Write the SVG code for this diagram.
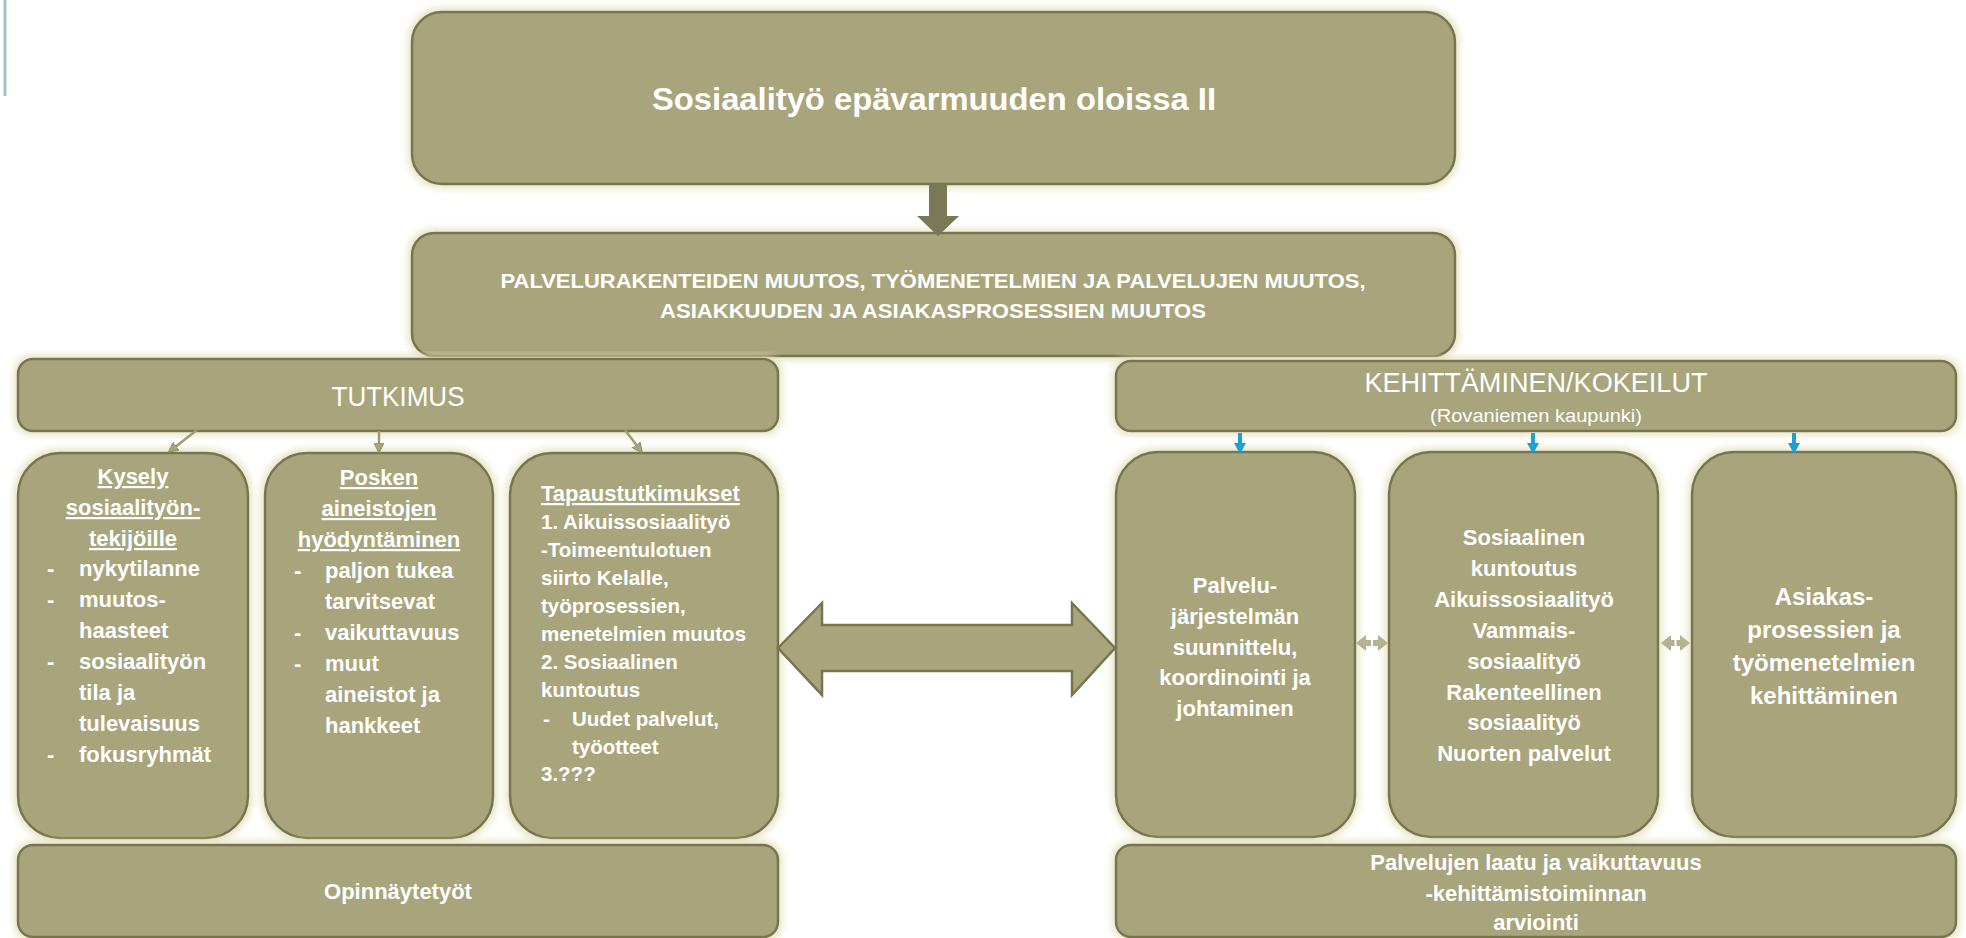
<svg xmlns="http://www.w3.org/2000/svg" width="1966" height="938" viewBox="0 0 1966 938">
<style>
.box{fill:#a8a57c;stroke:#77744f;stroke-width:2.5;filter:url(#glow)}
.t{font-family:"Liberation Sans",Arial,sans-serif;fill:#ffffff}
.b{font-weight:bold}
.c{text-anchor:middle}
.u{text-decoration:underline}
.s22{font-size:22px}
.s20{font-size:20.5px}
.s24{font-size:24px}
.olive{stroke:#9e9b73;stroke-width:2.5;fill:none}
.blue{stroke:#1ba1d8;stroke-width:4;fill:none}
</style>
<defs>
<filter id="glow" x="-10%" y="-10%" width="120%" height="120%">
<feMorphology in="SourceAlpha" operator="dilate" radius="2" result="d"/>
<feGaussianBlur in="d" stdDeviation="4" result="bl"/>
<feFlood flood-color="#dedbb0" flood-opacity="0.9"/>
<feComposite in2="bl" operator="in" result="g"/>
<feMerge><feMergeNode in="g"/><feMergeNode in="SourceGraphic"/></feMerge>
</filter>
<marker id="oh" markerWidth="10" markerHeight="10" refX="8" refY="5" orient="auto" markerUnits="userSpaceOnUse">
<path d="M0,0 L10,5 L0,10 Z" fill="#a8a57c" stroke="#8f8c66" stroke-width="1"/>
</marker>
<marker id="bh" markerWidth="14" markerHeight="12" refX="6" refY="6" orient="auto" markerUnits="userSpaceOnUse">
<path d="M0,0 L11,6 L0,12 Z" fill="#1ba1d8"/>
</marker>
</defs>
<rect width="1966" height="938" fill="#ffffff"/>
<line x1="5" y1="0" x2="5" y2="96" stroke="#a5c3c4" stroke-width="3"/>

<g id="title">
<rect class="box" x="412" y="12" width="1043" height="172" rx="30"/>
<text class="t b" x="934" y="110" font-size="32" text-anchor="middle" textLength="564" lengthAdjust="spacingAndGlyphs">Sosiaalityö epävarmuuden oloissa II</text>
</g>
<g id="muutos">
<rect class="box" x="412" y="233" width="1043" height="123" rx="22"/>
<text class="t b c" x="933" y="288" font-size="21" textLength="865" lengthAdjust="spacingAndGlyphs">PALVELURAKENTEIDEN MUUTOS, TYÖMENETELMIEN JA PALVELUJEN MUUTOS,</text>
<text class="t b c" x="933" y="318" font-size="21" textLength="546" lengthAdjust="spacingAndGlyphs">ASIAKKUUDEN JA ASIAKASPROSESSIEN MUUTOS</text>
</g>
<g id="tutkimus">
<rect class="box" x="18" y="359" width="760" height="72" rx="15"/>
<text class="t c" x="398" y="406" font-size="28" textLength="133" lengthAdjust="spacingAndGlyphs">TUTKIMUS</text>
</g>
<g id="kehittaminen">
<rect class="box" x="1116" y="361" width="840" height="70" rx="15"/>
<text class="t c" x="1536" y="392" font-size="28" textLength="343" lengthAdjust="spacingAndGlyphs">KEHITTÄMINEN/KOKEILUT</text>
<text class="t c" x="1536" y="422" font-size="19" textLength="212" lengthAdjust="spacingAndGlyphs">(Rovaniemen kaupunki)</text>
</g>
<g id="kysely">
<rect class="box" x="18" y="453" width="230" height="385" rx="42"/>
<text class="t b s22 c u" x="133" y="484">Kysely</text>
<text class="t b s22 c u" x="133" y="515">sosiaalityön-</text>
<text class="t b s22 c u" x="133" y="546">tekijöille</text>
<g class="t b s22">
<text x="47" y="576">-</text><text x="79" y="576">nykytilanne</text>
<text x="47" y="607">-</text><text x="79" y="607">muutos-</text>
<text x="79" y="638">haasteet</text>
<text x="47" y="669">-</text><text x="79" y="669">sosiaalityön</text>
<text x="79" y="700">tila ja</text>
<text x="79" y="731">tulevaisuus</text>
<text x="47" y="762">-</text><text x="79" y="762">fokusryhmät</text>
</g>
</g>
<g id="posken">
<rect class="box" x="265" y="453" width="228" height="385" rx="42"/>
<text class="t b s22 c u" x="379" y="485">Posken</text>
<text class="t b s22 c u" x="379" y="516">aineistojen</text>
<text class="t b s22 c u" x="379" y="547">hyödyntäminen</text>
<g class="t b s22">
<text x="294" y="578">-</text><text x="325" y="578">paljon tukea</text>
<text x="325" y="609">tarvitsevat</text>
<text x="294" y="640">-</text><text x="325" y="640">vaikuttavuus</text>
<text x="294" y="671">-</text><text x="325" y="671">muut</text>
<text x="325" y="702">aineistot ja</text>
<text x="325" y="733">hankkeet</text>
</g>
</g>
<g id="tapaustutkimukset">
<rect class="box" x="510" y="453" width="268" height="385" rx="42"/>
<text class="t b s22 u" x="541" y="501">Tapaustutkimukset</text>
<g class="t b s20">
<text x="541" y="529">1. Aikuissosiaalityö</text>
<text x="541" y="557">-Toimeentulotuen</text>
<text x="541" y="585">siirto Kelalle,</text>
<text x="541" y="613">työprosessien,</text>
<text x="541" y="641">menetelmien muutos</text>
<text x="541" y="669">2. Sosiaalinen</text>
<text x="541" y="697">kuntoutus</text>
<text x="543" y="726">-</text><text x="572" y="726">Uudet palvelut,</text>
<text x="572" y="754">työotteet</text>
<text x="541" y="781">3.???</text>
</g>
</g>
<g id="opinnaytetyot">
<rect class="box" x="18" y="845" width="760" height="92" rx="15"/>
<text class="t b s22 c" x="398" y="899">Opinnäytetyöt</text>
</g>
<g id="palvelujarjestelma">
<rect class="box" x="1116" y="452" width="239" height="385" rx="42"/>
<g class="t b s22 c">
<text x="1235" y="593">Palvelu-</text>
<text x="1235" y="624">järjestelmän</text>
<text x="1235" y="655">suunnittelu,</text>
<text x="1235" y="685">koordinointi ja</text>
<text x="1235" y="716">johtaminen</text>
</g>
</g>
<g id="sosiaalinen">
<rect class="box" x="1389" y="452" width="269" height="385" rx="42"/>
<g class="t b s22 c">
<text x="1524" y="545">Sosiaalinen</text>
<text x="1524" y="576">kuntoutus</text>
<text x="1524" y="607">Aikuissosiaalityö</text>
<text x="1524" y="638">Vammais-</text>
<text x="1524" y="669">sosiaalityö</text>
<text x="1524" y="700">Rakenteellinen</text>
<text x="1524" y="730">sosiaalityö</text>
<text x="1524" y="761">Nuorten palvelut</text>
</g>
</g>
<g id="asiakasprosessit">
<rect class="box" x="1692" y="452" width="264" height="385" rx="42"/>
<g class="t b s24 c">
<text x="1824" y="605">Asiakas-</text>
<text x="1824" y="638">prosessien ja</text>
<text x="1824" y="671">työmenetelmien</text>
<text x="1824" y="704">kehittäminen</text>
</g>
</g>
<g id="laatu">
<rect class="box" x="1116" y="845" width="840" height="92" rx="15"/>
<g class="t b s22 c">
<text x="1536" y="870">Palvelujen laatu ja vaikuttavuus</text>
<text x="1536" y="901">-kehittämistoiminnan</text>
<text x="1536" y="930">arviointi</text>
</g>
</g>

<g id="connectors">
<polygon points="929,184 947,184 947,216 959,216 938,236 917,216 929,216" fill="#7b7858"/>
<line class="olive" x1="197" y1="430" x2="170" y2="451" marker-end="url(#oh)"/>
<line class="olive" x1="379" y1="431" x2="379" y2="451" marker-end="url(#oh)"/>
<line class="olive" x1="625" y1="430" x2="641" y2="451" marker-end="url(#oh)"/>
<line class="blue" x1="1240" y1="433" x2="1240" y2="449" marker-end="url(#bh)"/>
<line class="blue" x1="1533" y1="433" x2="1533" y2="449" marker-end="url(#bh)"/>
<line class="blue" x1="1794" y1="433" x2="1794" y2="449" marker-end="url(#bh)"/>
<polygon points="778,648 822,603 822,625 1072,625 1072,603 1115,648 1072,695 1072,671 822,671 822,695" fill="#a8a57c" stroke="#77744f" stroke-width="2.5" stroke-linejoin="miter"/>
<polygon points="1356,643 1366,635 1366,640 1378,640 1378,635 1388,643 1378,651 1378,646 1366,646 1366,651" fill="#b5b291"/>
<line x1="1372" y1="637" x2="1372" y2="649" stroke="#ffffff" stroke-width="2"/>
<polygon points="1661,643 1671,635 1671,640 1680,640 1680,635 1690,643 1680,651 1680,646 1671,646 1671,651" fill="#b5b291"/>
<line x1="1675.5" y1="637" x2="1675.5" y2="649" stroke="#ffffff" stroke-width="2"/>
</g>
</svg>
